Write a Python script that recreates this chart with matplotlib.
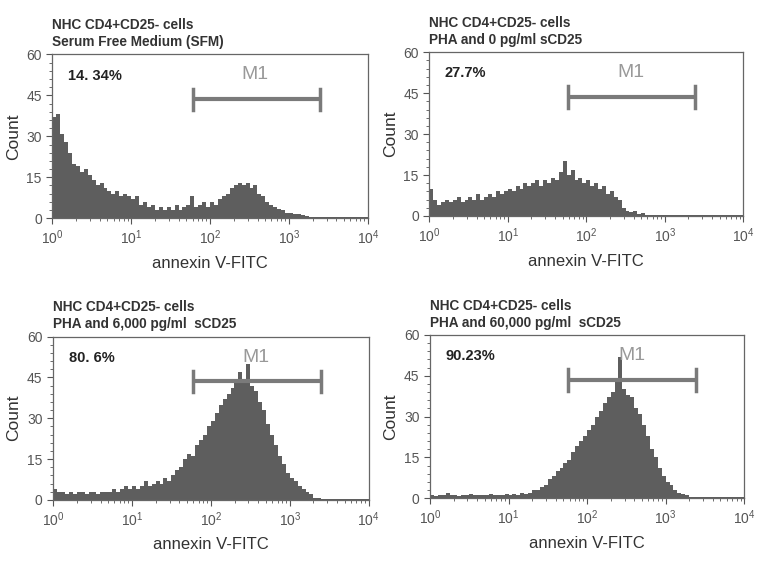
import matplotlib.pyplot as plt
import numpy as np
from matplotlib.ticker import LogLocator, MultipleLocator

plt.rcParams['font.family'] = ['Liberation Sans', 'DejaVu Sans']

# histogramas: 80 canales por panel, 20 por decada (10^0 .. 10^4)
sfm = [37, 38, 31, 28, 24, 20, 19, 17, 18, 16,
       14, 12, 13, 11, 10, 9, 10, 8, 9, 8,
       7, 8, 5, 6, 4, 5, 3, 4, 3, 4,
       3, 5, 3, 4, 5, 8, 4, 5, 6, 4,
       6, 5, 7, 8, 9, 11, 12, 13, 12, 13,
       11, 12, 9, 8, 6, 5, 4, 3.5, 3, 2,
       2, 1.5, 1.5, 1, 0.8, 0.6, 0.5, 0.4, 0.3, 0.3,
       0.3, 0.3, 0.3, 0.3, 0.3, 0.3, 0.3, 0.3, 0.3, 0.3]

pha0 = [10, 6, 4, 5, 6, 5, 6, 7, 5, 6,
        7, 6, 8, 6, 7, 8, 7, 9, 8, 9,
        10, 9, 11, 10, 12, 11, 12, 13, 11, 13,
        12, 14, 13, 16, 20, 15, 17, 13, 14, 12,
        13, 11, 12, 10, 11, 8, 9, 7, 6, 3,
        2, 1.5, 2, 0.8, 1, 0.5, 0.3, 0.3, 0.3, 0.3,
        0.3, 0.3, 0.3, 0.3, 0.3, 0.3, 0.3, 0.3, 0.3, 0.3,
        0.3, 0.3, 0.3, 0.3, 0.3, 0.3, 0.3, 0.3, 0.3, 0.3]

pha6000 = [4, 3, 3, 2, 3, 2, 3, 3, 2, 3,
           3, 2, 3, 3, 3, 4, 3, 4, 5, 4,
           5, 4, 5, 7, 5, 6, 7, 6, 8, 7,
           9, 11, 12, 15, 17, 16, 20, 22, 24, 27,
           29, 32, 35, 37, 39, 41, 43, 47, 44, 50,
           42, 40, 36, 33, 28, 24, 20, 16, 13, 10,
           8, 7, 5, 4, 3, 2, 0.8, 0.5, 0.4, 0.4,
           0.4, 0.4, 0.4, 0.4, 0.4, 0.4, 0.4, 0.4, 0.4, 0.4]

pha60000 = [1, 0.8, 1, 1, 2, 1, 1, 0.8, 1, 1,
            1.5, 1, 1, 1, 1, 1.5, 1, 1, 1, 1.5,
            1, 1.5, 1, 2, 1.5, 2, 3, 3, 4, 5,
            7, 8, 10, 11, 13, 14, 17, 19, 21, 23,
            25, 27, 30, 32, 35, 37, 39, 43, 52, 40,
            38, 37, 33, 31, 27, 23, 18, 15, 11, 8,
            6, 5, 3, 2, 1.5, 1, 0.5, 0.4, 0.4, 0.4,
            0.4, 0.4, 0.4, 0.4, 0.4, 0.4, 0.4, 0.4, 0.4, 0.4]

subtitulos = ["Serum Free Medium (SFM)",
              "PHA and 0 pg/ml sCD25",
              "PHA and 6,000 pg/ml  sCD25",
              "PHA and 60,000 pg/ml  sCD25"]
porcentajes = ["14. 34%", "27.7%", "80. 6%", "90.23%"]
m1_izq = [60, 58, 60, 58]
m1_der = [2450, 2450, 2500, 2450]
m1_y = 43.5

datos = [sfm, pha0, pha6000, pha60000]
bordes = 10 ** (np.arange(81) * 0.05)

fig = plt.figure(figsize=(7.57, 5.61), dpi=100)
# posiciones de cada lamina [izq, abajo, ancho, alto]
posiciones = [[0.069, 0.611, 0.417, 0.292],
              [0.567, 0.615, 0.415, 0.292],
              [0.070, 0.109, 0.417, 0.291],
              [0.568, 0.112, 0.415, 0.291]]

gris = '#555555'
for i in range(4):
    ax = fig.add_axes(posiciones[i])
    ax.stairs(datos[i], bordes, fill=True, color='#5e5e5e', lw=0)
    ax.set_xscale('log')
    ax.set_xlim(1, 10000)
    ax.set_ylim(0, 60)
    ax.set_yticks([0, 15, 30, 45, 60])
    ax.yaxis.set_minor_locator(MultipleLocator(3))
    ax.xaxis.set_major_locator(LogLocator(base=10))
    ax.xaxis.set_minor_locator(LogLocator(base=10, subs=np.arange(2, 10)))
    ax.tick_params(labelsize=10, colors=gris, length=4, width=0.8)
    ax.tick_params(which='minor', length=2, width=0.6, colors=gris)
    for s in ax.spines.values():
        s.set_color('#666666')
        s.set_linewidth(0.9)

    ax.set_xlabel("annexin V-FITC", fontsize=12, color='#333333')
    ax.set_ylabel("Count", fontsize=12.5, color='#333333')
    ax.xaxis.set_label_coords(0.5, -0.23)
    ax.yaxis.set_label_coords(-0.10, 0.5)

    ax.text(0.0, 1.18, "NHC CD4+CD25- cells", transform=ax.transAxes,
            fontsize=9.8, fontweight='bold', color='#333333', va='center')
    ax.text(0.0, 1.075, subtitulos[i], transform=ax.transAxes,
            fontsize=9.8, fontweight='bold', color='#333333', va='center')
    ax.text(0.05, 0.87, porcentajes[i], transform=ax.transAxes,
            fontsize=10.5, fontweight='bold', color='#222222', va='center')

    # marcador M1
    ax.plot([m1_izq[i], m1_der[i]], [m1_y, m1_y], color='#7a7a7a', lw=3,
            solid_capstyle='butt')
    ax.plot([m1_izq[i], m1_izq[i]], [39.5, 47.5], color='#7a7a7a', lw=2.5)
    ax.plot([m1_der[i], m1_der[i]], [39.5, 47.5], color='#7a7a7a', lw=2.5)
    ax.text(10 ** 2.57, 52.5, "M1", fontsize=14, color='#999999',
            ha='center', va='center')

fig.savefig('out.png', dpi=100)
